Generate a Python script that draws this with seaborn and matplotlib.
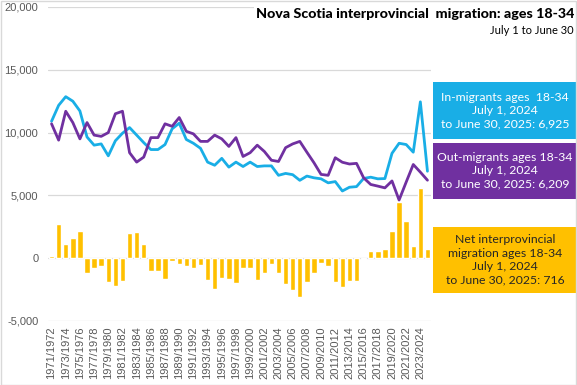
import numpy as np
import pandas as pd
import matplotlib
matplotlib.use("Agg")
import matplotlib.pyplot as plt
import seaborn as sns
from matplotlib.patches import Rectangle
from matplotlib.ticker import FuncFormatter

# ---------------- data ----------------
years = [f"{y}/{y + 1}" for y in range(1971, 2025)]

in_migrants = [10900, 12170, 12860, 12500, 11720, 9650, 9000, 9100, 8150, 9350,
               9950, 10400, 9800, 9200, 8650, 8650, 9050, 10300, 10750, 9450,
               9150, 8750, 7650, 7400, 7950, 7250, 7650, 7300, 7650, 7300,
               7350, 7350, 6600, 6750, 6650, 6200, 6540, 6400, 6320, 6000,
               6100, 5350, 5650, 5700, 6350, 6450, 6320, 6340, 8350, 9150,
               9050, 8440, 12450, 6925]

out_migrants = [10700, 9400, 11700, 10800, 9500, 10800, 9800, 9700, 10000, 11500,
                11700, 8400, 7650, 8050, 9600, 9600, 10700, 10500, 11200, 10100,
                9900, 9300, 9300, 9800, 9500, 8900, 9600, 8100, 8400, 9000,
                8500, 7800, 7700, 8800, 9100, 9300, 8440, 7600, 6670, 6600,
                8000, 7640, 7500, 7550, 6400, 5870, 5740, 5600, 6150, 4630,
                6060, 7460, 6850, 6209]

net_migration = [200, 2700, 1100, 1600, 2150, -1200, -800, -600, -1900, -2200,
                 -1800, 2000, 2050, 1100, -1000, -1000, -1650, -200, -450, -650,
                 -750, -550, -1700, -2450, -1550, -1650, -2000, -800, -750, -1700,
                 -1200, -450, -1150, -2050, -2500, -3100, -1900, -1200, -350, -600,
                 -1900, -2300, -1850, -1850, -40, 580, 580, 740, 2170, 4470,
                 2960, 980, 5560, 716]

y_ticks = [-5000, 0, 5000, 10000, 15000, 20000]

title = "Nova Scotia interprovincial  migration: ages 18-34"
subtitle = "July 1 to June 30"
box_in = "In-migrants ages  18-34\nJuly 1, 2024\nto June 30, 2025: 6,925"
box_out = "Out-migrants ages 18-34\nJuly 1, 2024\nto June 30, 2025: 6,209"
box_net = "Net interprovincial\nmigration ages 18-34\nJuly 1, 2024\nto June 30, 2025: 716"

# ---------------- style ----------------
BLUE = "#19AEE6"
PURPLE = "#7030A0"
GOLD = "#FFC000"
GRID = "#D9D9D9"
TXT = "#595959"

sns.set_theme(style="white")
plt.rcParams['font.family'] = ['Liberation Sans', 'DejaVu Sans']
NARROW = ['Lato', 'DejaVu Sans']

df = pd.DataFrame({"year": years, "in": in_migrants, "out": out_migrants,
                   "net": net_migration})

W, H = 577, 385
fig = plt.figure(figsize=(W / 100, H / 100), dpi=100)
ax = fig.add_axes([48 / W, 1 - 321 / H, (431 - 48) / W, (321 - 7) / H])

sns.barplot(data=df, x="year", y="net", color=GOLD, saturation=1, width=0.76,
            ax=ax, zorder=2)
sns.lineplot(data=df, x="year", y="in", color=BLUE, linewidth=2.0, ax=ax,
             sort=False, zorder=3)
sns.lineplot(data=df, x="year", y="out", color=PURPLE, linewidth=2.0, ax=ax,
             sort=False, zorder=3)

ax.set_xlim(-0.5, len(years) - 0.5)
ax.set_ylim(-5000, 20000)
ax.set_yticks(y_ticks)
ax.yaxis.set_major_formatter(FuncFormatter(lambda v, p: f"{int(v):,}"))
ax.set_xticks(range(0, len(years), 2))
ax.set_xticklabels(years[::2], rotation=90)
ax.tick_params(axis="y", labelsize=8, labelcolor=TXT, length=0, pad=7)
ax.tick_params(axis="x", labelsize=8, labelcolor=TXT, length=0, pad=4)
ax.yaxis.grid(True, color=GRID, linewidth=0.9)
ax.xaxis.grid(False)
ax.set_axisbelow(True)
ax.set_xlabel("")
ax.set_ylabel("")
for s in ax.spines.values():
    s.set_visible(False)

# title
fig.text(574 / W, 1 - 14 / H, title, ha="right", va="center", fontsize=10.3,
         fontweight="black", family=NARROW, color="black",
         bbox=dict(facecolor="white", edgecolor="none", pad=1))
fig.text(574 / W, 1 - 31 / H, subtitle, ha="right", va="center", fontsize=8,
         family=NARROW, color="black")

# annotation boxes
def add_box(y_top, y_bot, color, text, tcolor):
    x0, x1 = 433, 577
    fig.add_artist(Rectangle((x0 / W, 1 - y_bot / H), (x1 - x0) / W,
                             (y_bot - y_top) / H, transform=fig.transFigure,
                             facecolor=color, edgecolor="none"))
    fig.text((x0 + x1) / 2 / W, 1 - (y_top + y_bot) / 2 / H, text,
             ha="center", va="center", fontsize=8.8, family=NARROW,
             color=tcolor, linespacing=1.25)

add_box(81.7, 139.3, BLUE, box_in, "white")
add_box(142.7, 199.3, PURPLE, box_out, "white")
add_box(226.7, 292.7, GOLD, box_net, "#262626")

# outer border
fig.add_artist(Rectangle((0.001, 0.001), 0.998, 0.997, transform=fig.transFigure,
                         fill=False, edgecolor=GRID, linewidth=1))

fig.savefig("out.png", dpi=100)
